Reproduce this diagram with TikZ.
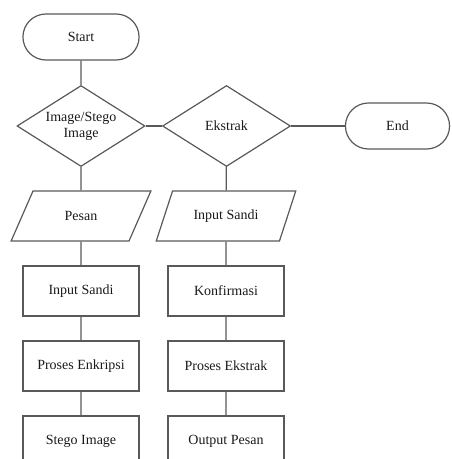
\documentclass[tikz,border=0pt]{standalone}
\usepackage{fontspec}
\setmainfont{Liberation Serif}
\usepackage{tikz}
\usetikzlibrary{shapes}
\tikzset{
  flow/.style={draw=black!65,line width=0.9pt,text=black!90,font=\fontsize{10.5}{12}\selectfont,align=center},
  terminal/.style={flow,rounded rectangle,minimum height=34.5pt},
  decision/.style={flow,diamond,inner sep=0pt,minimum width=96pt,minimum height=60.75pt},
  decitext/.style={text=black!90,font=\fontsize{10.5}{12}\selectfont,align=center},
  io/.style={flow,trapezium,trapezium left angle=62.5,trapezium right angle=117.5,trapezium stretches=true,minimum width=105pt,minimum height=37.5pt},
  process/.style={flow,rectangle,minimum width=87pt,minimum height=37.5pt}
}
\newcommand{\flownode}[5]{\node[#1] (#2) at ( #3 , #4 ) {#5};}

\begin{document}
\begin{tikzpicture}[x=0.75pt,y=-0.75pt]
        \path[use as bounding box,clip] (0,0) rectangle (451,459);
        %nodes
        \flownode{terminal,minimum width=93.75pt}{start}{81}{37}{Start}
        \flownode{decision,label={[decitext]center:Image/Stego\\Image}}{image}{81}{126}{}
        \flownode{decision,label={[decitext]center:Ekstrak}}{ekstrak}{226.5}{126}{}
        \flownode{terminal,minimum width=84.75pt}{finish}{397.5}{126}{End}
        \flownode{io}{pesan}{81}{216}{Pesan}
        \flownode{io}{sandiin}{226}{216}{Input Sandi}
        \flownode{process}{sandi}{81}{291}{Input Sandi}
        \flownode{process}{konfirmasi}{226}{291}{Konfirmasi}
        \flownode{process}{enkripsi}{81}{366}{Proses Enkripsi}
        \flownode{process}{proses}{226}{366}{Proses Ekstrak}
        \flownode{process}{stego}{81}{441}{Stego Image}
        \flownode{process}{output}{226}{441}{Output Pesan}
        %edges
        \draw[black!65,line width=0.9pt] (start) -- (image) -- (pesan) -- (sandi) -- (enkripsi) -- (stego);
        \draw[black!65,line width=0.9pt] (image) -- (ekstrak) -- (finish);
        \draw[black!65,line width=0.9pt] (ekstrak) -- (sandiin) -- (konfirmasi) -- (proses) -- (output);
\end{tikzpicture}
\end{document}
